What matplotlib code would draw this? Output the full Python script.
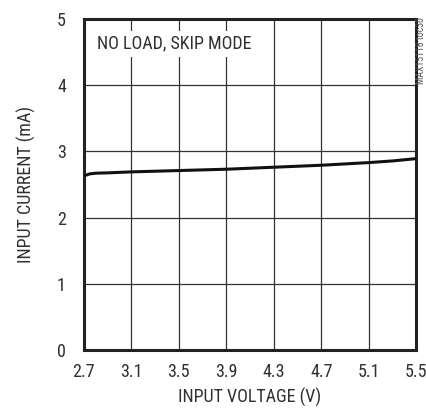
import matplotlib
matplotlib.use("Agg")
import matplotlib.pyplot as plt

plt.rcParams['font.family'] = ['Roboto Condensed', 'Liberation Sans', 'DejaVu Sans']

# curve data
vin = [2.7, 2.75, 2.8, 2.9, 3.1, 3.5, 3.9, 4.3, 4.7, 5.1, 5.3, 5.5]
iin = [2.63, 2.66, 2.67, 2.675, 2.69, 2.71, 2.73, 2.76, 2.79, 2.83, 2.855, 2.89]

xticks = [2.7, 3.1, 3.5, 3.9, 4.3, 4.7, 5.1, 5.5]
yticks = [0, 1, 2, 3, 4, 5]

TXT = "#303030"

fig = plt.figure(figsize=(4.26, 4.09), dpi=100, facecolor="white")
ax = fig.add_axes([0.197, 0.144, 0.780, 0.810])

ax.plot(vin, iin, color="#111111", lw=2.2, zorder=3)
ax.set_xlim(2.7, 5.5)
ax.set_ylim(0, 5)
ax.set_xticks(xticks)
ax.set_xticklabels([f"{v:.1f}" for v in xticks])
ax.set_yticks(yticks)
ax.tick_params(length=0, labelsize=13, colors=TXT)
ax.tick_params(axis="x", pad=9)
ax.tick_params(axis="y", pad=13)
ax.grid(True, color="#333333", lw=0.9)
for sp in ax.spines.values():
    sp.set_linewidth(2.2)
    sp.set_color("#222222")

ax.set_xlabel("INPUT VOLTAGE (V)", fontsize=13, color=TXT, labelpad=5)
ax.set_ylabel("INPUT CURRENT (mA)", fontsize=13, color=TXT, labelpad=15)

ax.text(0.04, 0.925, "NO LOAD, SKIP MODE", transform=ax.transAxes, fontsize=13,
        color=TXT, va="center", ha="left", zorder=4,
        bbox=dict(facecolor="white", edgecolor="none", pad=3))

fig.text(0.989, 0.957, "MAX15118 toc30", rotation=90, fontsize=7,
         color="#555555", ha="center", va="top")

fig.savefig("out.png", dpi=100, facecolor="white")
